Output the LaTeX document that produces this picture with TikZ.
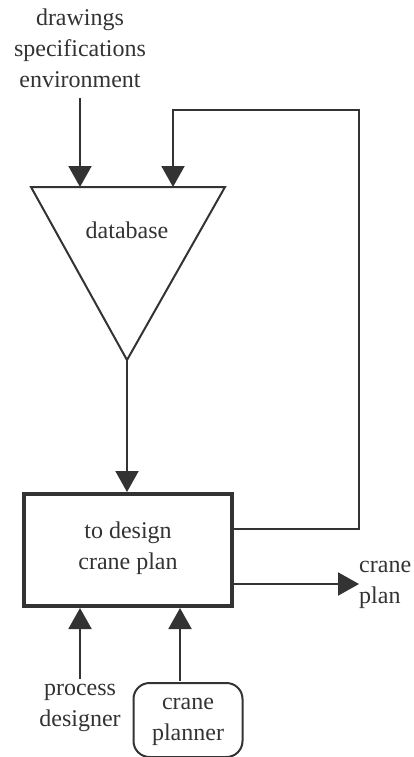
\documentclass[tikz,border=0pt]{standalone}
\usepackage{fontspec}
\setmainfont{Liberation Serif}
\usetikzlibrary{arrows.meta}
\definecolor{ink}{HTML}{333333}
\tikzset{
  lbl/.style={align=center, text=ink, font=\fontsize{24}{31}\selectfont, inner sep=0pt},
  conn/.style={draw=ink, line width=2pt, -{Triangle[length=21pt,width=23pt]}},
  plain/.style={draw=ink, line width=2pt},
}
\begin{document}
\begin{tikzpicture}[x=1pt,y=-1pt]
\useasboundingbox (0,0) rectangle (414,757);
% top inputs label
\node[lbl] (inputs) at (80,48) {drawings\\specifications\\environment};
% database triangle
\coordinate (tl) at (31,187);
\coordinate (tr) at (225,187);
\coordinate (apex) at (127,360);
\draw[plain, line join=miter] (tl) -- (tr) -- (apex) -- cycle;
\node[lbl] (db) at (127,230) {database};
\coordinate (in1) at (80,187);
\coordinate (in2) at (173,187);
\coordinate (in1s) at (80,98);
% process box
\node[draw=ink, line width=4pt, minimum width=208pt, minimum height=112pt, inner sep=0pt] (box) at (128,550) {};
\node[lbl] (boxtxt) at (128,548) {to design\\crane plan};
% feedback loop
\coordinate (fbout) at (box.east |- 0,529);
\coordinate (fbc1) at (359,529);
\coordinate (fbc2) at (359,110);
\coordinate (fbc3) at (173,110);
\draw[conn] (fbout) -- (fbc1) -- (fbc2) -- (fbc3) -- (in2);
\draw[conn] (in1s) -- (in1);
\draw[conn] (apex) -- (box.north -| apex);
% output
\coordinate (outs) at (box.east |- 0,584);
\node[lbl, anchor=west, align=left] (out) at (359,585) {crane\\plan};
\draw[conn] (outs) -- (out.west |- outs);
% bottom actors
\node[lbl] (proc) at (80,708) {process\\designer};
\node[draw=ink, line width=2pt, rounded corners=16pt, minimum width=109pt, minimum height=74pt, inner sep=0pt] (planner) at (188,720) {};
\node[lbl] (plantxt) at (188,722) {crane\\planner};
\coordinate (p1s) at (80,679);
\coordinate (p2s) at (180,681);
\draw[conn] (p1s) -- (box.south -| p1s);
\draw[conn] (p2s) -- (box.south -| p2s);
\end{tikzpicture}
\end{document}
